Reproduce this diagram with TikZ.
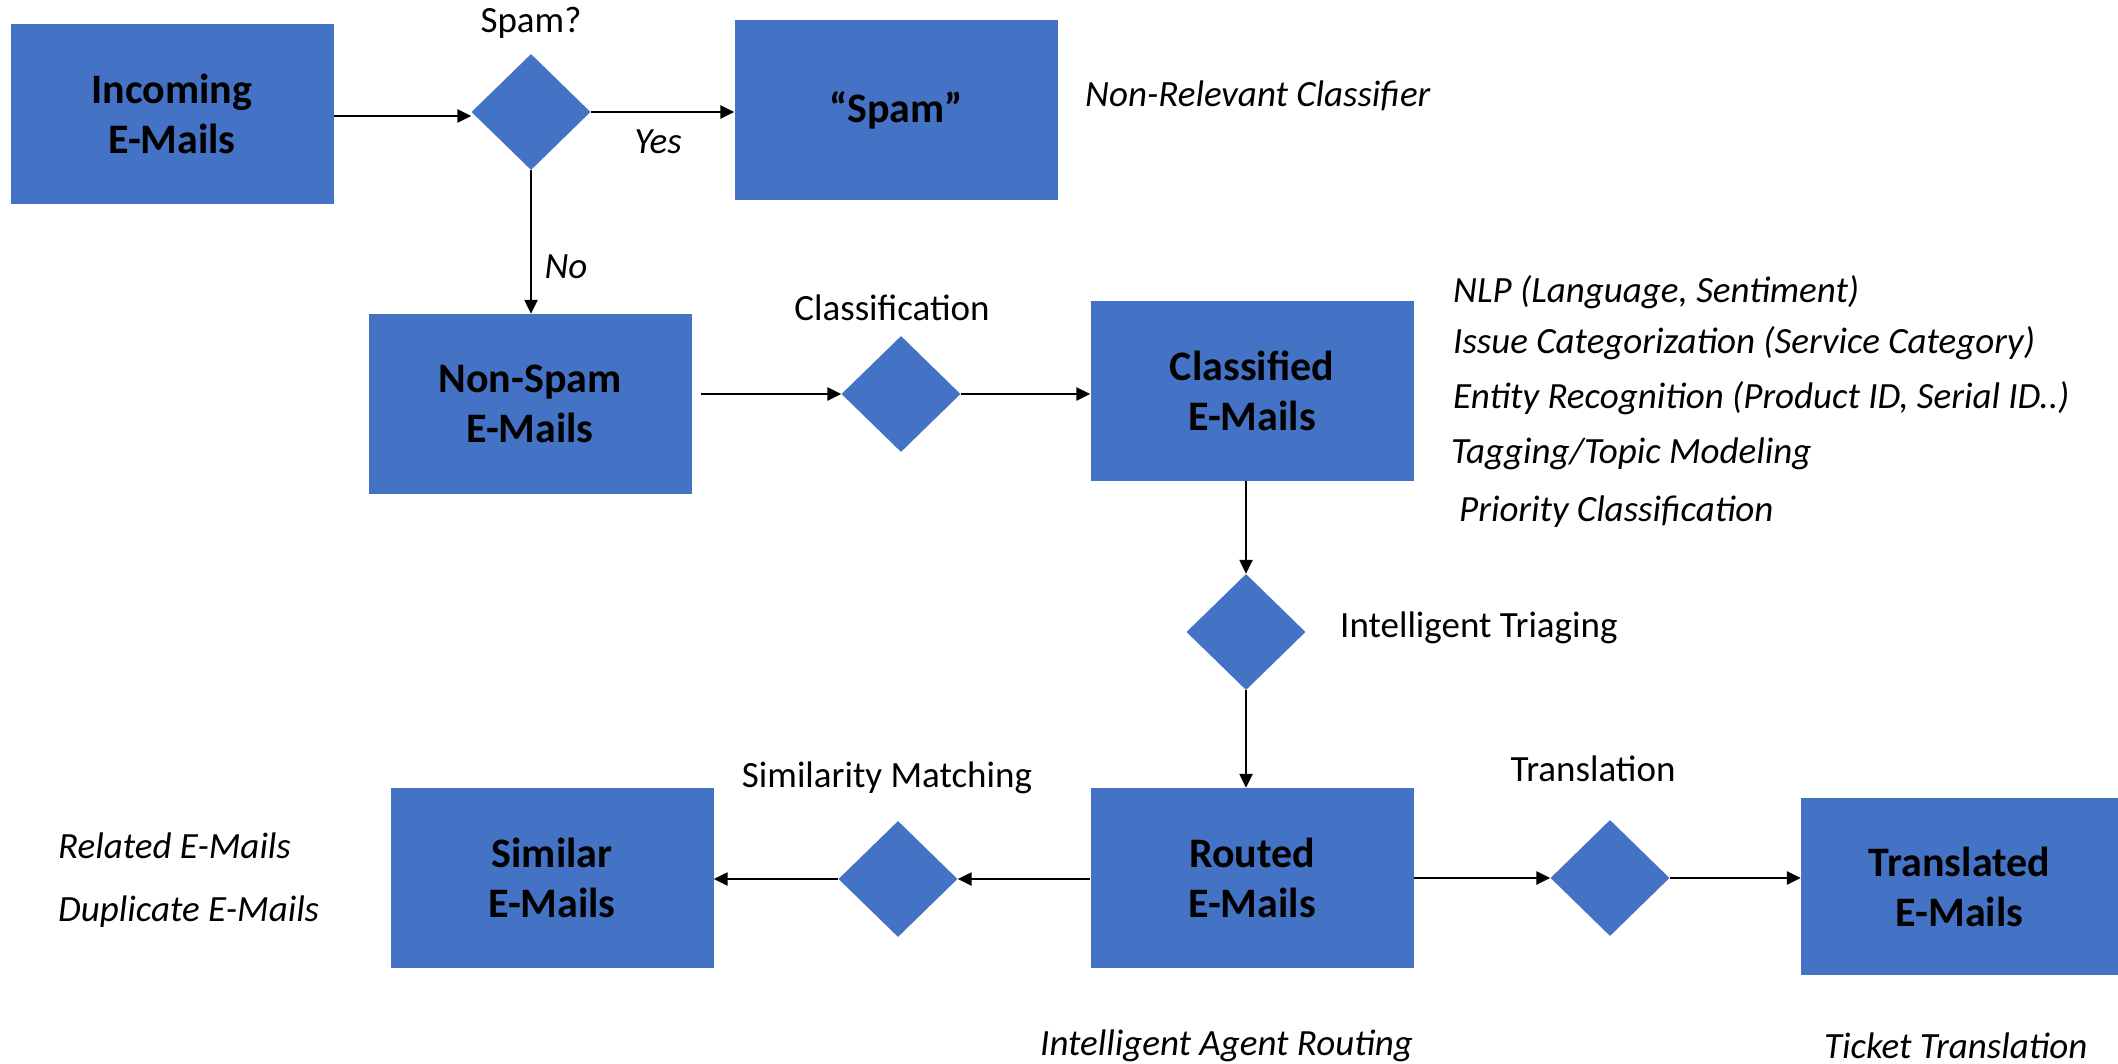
\documentclass[tikz,border=0pt]{standalone}
\usepackage{fontspec}
\setmainfont{Carlito}
\usetikzlibrary{shapes.geometric,arrows.meta,calc}
\definecolor{boxblue}{HTML}{4472C4}
\begin{document}
\begin{tikzpicture}[x=1pt,y=-1pt,
  bluebox/.style={fill=boxblue,draw=none,minimum width=323pt,minimum height=180pt,inner sep=0pt,
    align=center,font=\fontsize{42}{50}\selectfont\bfseries},
  dec/.style={diamond,fill=boxblue,draw=none,inner sep=0pt,minimum width=119pt,minimum height=116pt},
  lbl/.style={inner sep=0pt,font=\fontsize{37}{44}\selectfont},
  note/.style={inner sep=0pt,anchor=west,font=\fontsize{37}{44}\selectfont\itshape},
  arr/.style={draw=black,line width=2.4pt,-{Triangle[length=14pt,width=13pt]}}]
\useasboundingbox (0,0) rectangle (2118,1064);
% boxes
\node[bluebox] (inc) at (172,114) {Incoming\\E-Mails};
\node[bluebox] (spam) at (896,110) {“Spam”};
\node[bluebox] (ns) at (530,404) {Non-Spam\\E-Mails};
\node[bluebox] (cl) at (1252,391) {Classified\\E-Mails};
\node[bluebox] (rt) at (1252,878) {Routed\\E-Mails};
\node[bluebox] (sim) at (552,878) {Similar\\E-Mails};
\node[bluebox,minimum width=317pt,minimum height=177pt] (tr) at (1959.5,886.5) {Translated\\E-Mails};
% diamonds
\node[dec] (d1) at (531,112) {};
\node[dec] (d2) at (901,394) {};
\node[dec] (d3) at (1246,632) {};
\node[dec] (d4) at (898,879) {};
\node[dec] (d5) at (1610,878) {};
% connectors
\draw[arr] (inc.east |- 0,116) -- (d1.west |- 0,116);
\draw[arr] (d1.east) -- (spam.west |- d1.east);
\draw[arr] (d1.south) -- (d1.south |- ns.north);
\draw[arr,shorten <=9pt] (ns.east |- d2.west) -- (d2.west);
\draw[arr] (d2.east) -- (cl.west |- d2.east);
\draw[arr] (d3.north |- cl.south) -- (d3.north);
\draw[arr] (d3.south) -- (d3.south |- rt.north);
\draw[arr] (rt.west |- d4.east) -- (d4.east);
\draw[arr] (d4.west) -- (sim.east |- d4.west);
\draw[arr] (rt.east |- d5.west) -- (d5.west);
\draw[arr] (d5.east) -- (tr.west |- d5.east);
% labels
\node[lbl] (lspam) at (531,23) {Spam?};
\node[lbl,font=\fontsize{37}{44}\selectfont\itshape] (lyes) at (658,142) {Yes};
\node[lbl,font=\fontsize{37}{44}\selectfont\itshape] (lno) at (566,267) {No};
\node[lbl] (lcls) at (892,308) {Classification};
\node[lbl,anchor=west] (ltri) at (1340,628) {Intelligent Triaging};
\node[lbl] (lsim) at (887,778) {Similarity Matching};
\node[lbl] (ltrn) at (1593,769) {Translation};
% notes
\node[note] (n0) at (1085,96) {Non-Relevant Classifier};
\node[note] (n1) at (1453,292) {NLP (Language, Sentiment)};
\node[note] (n2) at (1453,343) {Issue Categorization (Service Category)};
\node[note] (n3) at (1453,398) {Entity Recognition (Product ID, Serial ID..)};
\node[note] (n4) at (1451,454) {Tagging/Topic Modeling};
\node[note] (n5) at (1459,512) {Priority Classification};
\node[note] (n6) at (58,846) {Related E-Mails};
\node[note] (n7) at (58,912) {Duplicate E-Mails};
\node[note] (n8) at (1040,1046) {Intelligent Agent Routing};
\node[note] (n9) at (1824,1046) {Ticket Translation};
\end{tikzpicture}
\end{document}
